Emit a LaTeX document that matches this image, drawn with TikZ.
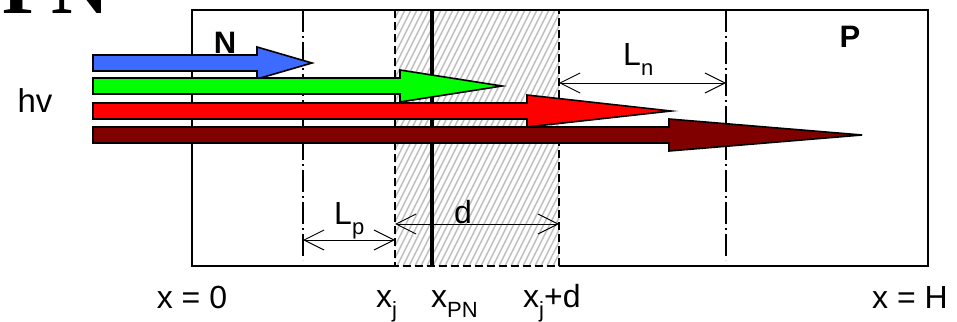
\documentclass[tikz,border=0pt]{standalone}
\usepackage{fontspec}
\setmainfont{Liberation Sans}
\newfontfamily\titlefont{Liberation Serif}
\usetikzlibrary{arrows.meta}
\definecolor{photonblue}{RGB}{61,107,255}
\definecolor{photongreen}{RGB}{0,255,0}
\definecolor{photonred}{RGB}{255,0,0}
\definecolor{photonmaroon}{RGB}{128,0,0}
\definecolor{hatchgray}{RGB}{190,190,190}
\newcommand{\lowsub}[1]{\raisebox{-0.32em}{\fontsize{22}{22}\selectfont #1}}

\begin{document}
\begin{tikzpicture}[
            x=1pt,
            y=-1pt,
            label/.style={font=\fontsize{32}{32}\selectfont,inner sep=0pt},
            region/.style={font=\bfseries\fontsize{31}{31}\selectfont,inner sep=0pt},
            border/.style={line width=2.6pt},
            edge/.style={line width=1.8pt,dash pattern=on 8pt off 4pt},
            layer/.style={line width=1.2pt,dash pattern=on 22pt off 4pt on 2pt off 4pt},
            dimline/.style={line width=1pt,{Straight Barb[length=20pt,width=20pt]}-{Straight Barb[length=20pt,width=20pt]}},
            beam/.style={draw=black,line width=1.6pt,line join=miter}
        ]
            \useasboundingbox (0,0) rectangle (957,321);

            % cut-off title
            \node[anchor=base west,inner sep=0pt,font=\titlefont\bfseries\fontsize{80}{80}\selectfont] (title) at (2,14) {PN};

            % depletion region
            \begin{scope}
                \clip (395,10) rectangle (559,266);
                \foreach \x in {265,271,...,565} {
                    \draw[hatchgray,line width=1.4pt] (\x,266) -- (\x+128,10);
                }
            \end{scope}

            % sample
            \draw[border] (395,266) -- (192,266) -- (192,10) -- (928,10) -- (928,266) -- (559,266);
            \draw[edge] (395,10) -- (395,266) -- (559,266) -- (559,10);
            \draw[line width=3.2pt] (432,10) -- (432,267);
            \draw[layer] (303,10) -- (303,260);
            \draw[layer] (726,10) -- (726,260);

            % dimensions
            \coordinate (lpL) at (303,240);
            \coordinate (lpR) at (395,240);
            \coordinate (dL) at (395,224);
            \coordinate (dR) at (559,224);
            \coordinate (lnL) at (559,83);
            \coordinate (lnR) at (726,83);
            \draw[dimline] (lpL) -- (lpR);
            \draw[dimline] (dL) -- (dR);
            \draw[dimline] (lnL) -- (lnR);

            \node[label,anchor=base west] (Lp) at (334,224) {L\lowsub{p}};
            \node[label,anchor=base west] (d) at (454,223) {d};
            \node[label,anchor=base west] (Ln) at (623,65) {L\lowsub{n}};

            % photons
            \foreach \col/\yc/\hx/\tx in {photonblue/63/257/312,photongreen/86/400/502,photonred/111/527/671,photonmaroon/135/669/862} {
                \draw[beam,fill=\col] (93,\yc-8) -- (\hx,\yc-8) -- (\hx,\yc-16) -- (\tx,\yc)
                    -- (\hx,\yc+16) -- (\hx,\yc+8) -- (93,\yc+8) -- cycle;
            }

            \node[region,anchor=base] (N) at (225,53) {N};
            \node[region,anchor=base] (P) at (850,48) {P};
            \node[label,anchor=base,font=\fontsize{33}{33}\selectfont] (hv) at (35,112) {hv};

            % positions
            \node[label,anchor=base] (x0) at (192,308) {x = 0};
            \node[label,anchor=base west] (xj) at (376,307) {x\lowsub{j}};
            \node[label,anchor=base west] (xpn) at (431,307) {x\lowsub{PN}};
            \node[label,anchor=base west] (xjd) at (523,307) {x\lowsub{j}+d};
            \node[label,anchor=base] (xH) at (910,308) {x = H};
        \end{tikzpicture}
\end{document}
